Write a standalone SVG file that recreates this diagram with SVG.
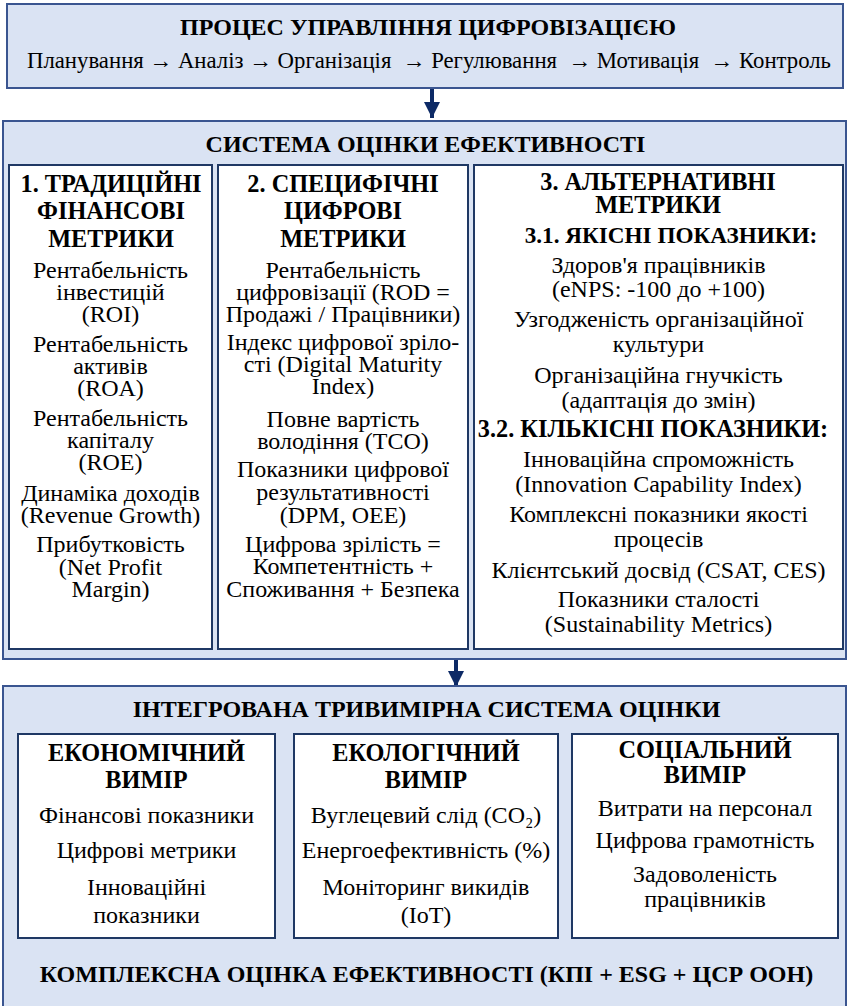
<svg xmlns="http://www.w3.org/2000/svg" width="849" height="1006" viewBox="0 0 849 1006" font-family="'Liberation Serif', 'Times New Roman', serif">
<defs>
<style>
.panel{fill:#dae3f3;stroke:#3a5590;stroke-width:2}
.card{fill:#ffffff;stroke:#1f3864;stroke-width:2}
text{font-family:'Liberation Serif','Times New Roman',serif;fill:#000;text-anchor:middle;font-size:24px}
.t{font-weight:bold}
.h{font-weight:bold;font-size:24.3px}
.conn{stroke:#0d2a66;stroke-width:4;fill:none}
</style>
<marker id="ah" viewBox="0 0 10 10" refX="10" refY="5" markerWidth="4" markerHeight="4" orient="auto" markerUnits="strokeWidth">
<path d="M0,0 L10,5 L0,10 Z" fill="#0d2a66"/>
</marker>
</defs>
<rect x="0" y="0" width="849" height="1006" fill="#ffffff"/>

<g id="connectors">
<line class="conn" x1="432" y1="89" x2="432" y2="118" marker-end="url(#ah)"/>
<line class="conn" x1="456" y1="659" x2="456" y2="687" marker-end="url(#ah)"/>
</g>

<g id="process">
<rect class="panel" x="7" y="4" width="836" height="84"/>
<text class="t" x="428" y="35">ПРОЦЕС УПРАВЛІННЯ ЦИФРОВІЗАЦІЄЮ</text>
<text x="429" y="68" style="font-size:22.75px" xml:space="preserve">Планування → Аналіз → Організація  → Регулювання  → Мотивація  → Контроль</text>
</g>

<g id="evaluation">
<rect class="panel" x="3" y="121" width="843" height="538"/>
<text class="t" x="425.5" y="152">СИСТЕМА ОЦІНКИ ЕФЕКТИВНОСТІ</text>
</g>

<g id="traditional">
<rect class="card" x="9" y="165" width="203" height="484"/>
<text class="h" x="111" y="192">1. ТРАДИЦІЙНІ</text>
<text class="h" x="111" y="219">ФІНАНСОВІ</text>
<text class="h" x="111" y="247">МЕТРИКИ</text>
<text x="110.5" y="278">Рентабельність</text>
<text x="110.5" y="300">інвестицій</text>
<text x="110.5" y="322">(ROI)</text>
<text x="110.5" y="352">Рентабельність</text>
<text x="110.5" y="374">активів</text>
<text x="110.5" y="396">(ROA)</text>
<text x="110.5" y="426">Рентабельність</text>
<text x="110.5" y="448">капіталу</text>
<text x="110.5" y="470">(ROE)</text>
<text x="110.5" y="501">Динаміка доходів</text>
<text x="110.5" y="523">(Revenue Growth)</text>
<text x="110.5" y="552">Прибутковість</text>
<text x="110.5" y="575">(Net Profit</text>
<text x="110.5" y="597">Margin)</text>
</g>

<g id="digital">
<rect class="card" x="218" y="165" width="250" height="484"/>
<text class="h" x="343" y="192">2. СПЕЦИФІЧНІ</text>
<text class="h" x="343" y="219">ЦИФРОВІ</text>
<text class="h" x="343" y="247">МЕТРИКИ</text>
<text x="343" y="278">Рентабельність</text>
<text x="343" y="300">цифровізації (ROD =</text>
<text x="343" y="322">Продажі / Працівники)</text>
<text x="343" y="350">Індекс цифрової зріло-</text>
<text x="343" y="372">сті (Digital Maturity</text>
<text x="343" y="394">Index)</text>
<text x="343" y="427">Повне вартість</text>
<text x="343" y="449">володіння (TCO)</text>
<text x="343" y="477">Показники цифрової</text>
<text x="343" y="500">результативності</text>
<text x="343" y="523">(DPM, OEE)</text>
<text x="343" y="552">Цифрова зрілість =</text>
<text x="343" y="574">Компетентність +</text>
<text x="343" y="597">Споживання + Безпека</text>
</g>

<g id="alternative">
<rect class="card" x="474" y="165" width="369" height="484"/>
<text class="h" x="658" y="190">3. АЛЬТЕРНАТИВНІ</text>
<text class="h" x="658" y="213">МЕТРИКИ</text>
<text class="h" x="671" y="243" style="font-size:23.2px">3.1. ЯКІСНІ ПОКАЗНИКИ:</text>
<text x="658.5" y="273">Здоров'я працівників</text>
<text x="658.5" y="297">(eNPS: -100 до +100)</text>
<text x="658.5" y="327">Узгодженість організаційної</text>
<text x="658.5" y="352">культури</text>
<text x="658.5" y="383">Організаційна гнучкість</text>
<text x="658.5" y="408">(адаптація до змін)</text>
<text class="h" x="653" y="437">3.2. КІЛЬКІСНІ ПОКАЗНИКИ:</text>
<text x="658.5" y="467">Інноваційна спроможність</text>
<text x="658.5" y="492">(Innovation Capability Index)</text>
<text x="658.5" y="522">Комплексні показники якості</text>
<text x="658.5" y="547">процесів</text>
<text x="658.5" y="578">Клієнтський досвід (CSAT, CES)</text>
<text x="658.5" y="607">Показники сталості</text>
<text x="658.5" y="632">(Sustainability Metrics)</text>
</g>

<g id="integrated">
<rect class="panel" x="3" y="686" width="843" height="325"/>
<text class="t" x="426.5" y="717">ІНТЕГРОВАНА ТРИВИМІРНА СИСТЕМА ОЦІНКИ</text>
<text class="t" x="426.5" y="982">КОМПЛЕКСНА ОЦІНКА ЕФЕКТИВНОСТІ (КПІ + ESG + ЦСР ООН)</text>
</g>

<g id="economic">
<rect class="card" x="18" y="734" width="257" height="204"/>
<text class="h" x="146.5" y="761">ЕКОНОМІЧНИЙ</text>
<text class="h" x="146.5" y="788">ВИМІР</text>
<text x="146.5" y="823">Фінансові показники</text>
<text x="146.5" y="858">Цифрові метрики</text>
<text x="146.5" y="895">Інноваційні</text>
<text x="146.5" y="923">показники</text>
</g>

<g id="ecological">
<rect class="card" x="294" y="734" width="264" height="204"/>
<text class="h" x="426" y="761">ЕКОЛОГІЧНИЙ</text>
<text class="h" x="426" y="788">ВИМІР</text>
<text x="426" y="823">Вуглецевий слід (CO₂)</text>
<text x="426" y="858">Енергоефективність (%)</text>
<text x="426" y="895">Моніторинг викидів</text>
<text x="426" y="923">(IoT)</text>
</g>

<g id="social">
<rect class="card" x="572" y="734" width="266" height="204"/>
<text class="h" x="705" y="758">СОЦІАЛЬНИЙ</text>
<text class="h" x="705" y="783">ВИМІР</text>
<text x="705" y="816">Витрати на персонал</text>
<text x="705" y="848">Цифрова грамотність</text>
<text x="705" y="882">Задоволеність</text>
<text x="705" y="907">працівників</text>
</g>
</svg>
